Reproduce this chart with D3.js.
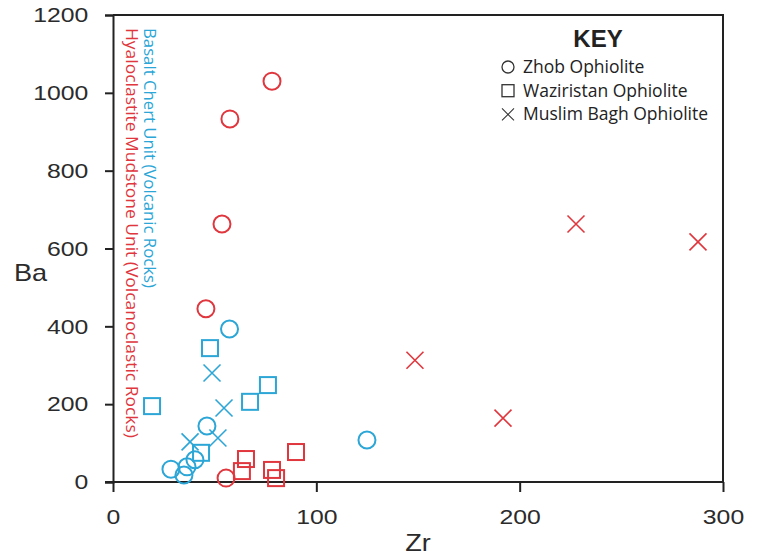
<!DOCTYPE html>
<html>
<head>
<meta charset="utf-8">
<script src="https://cdn.jsdelivr.net/npm/d3@7"></script>
<style>
  html, body { margin: 0; padding: 0; background: #fff; }
  svg { display: block; }
  .tick text { font-family: "Liberation Sans", Arial, sans-serif; }
</style>
</head>
<body>
<svg id="chart" width="765" height="556"></svg>
<script>
// Zr vs Ba for volcanic (basalt chert) and volcanoclastic (hyaloclastite mudstone) rocks
const xTicks = [0, 100, 200, 300];
const yTicks = [0, 200, 400, 600, 800, 1000, 1200];

const units = [
  { key: "basalt", label: "Basalt Chert Unit (Volcanic Rocks)", color: "#2ba6d6" },
  { key: "hyalo", label: "Hyaloclastite Mudstone Unit (Volcanoclastic Rocks)", color: "#e0363d" }
];

const ophiolites = [
  { key: "zhob", label: "Zhob Ophiolite", shape: "circle" },
  { key: "wazir", label: "Waziristan Ophiolite", shape: "square" },
  { key: "muslim", label: "Muslim Bagh Ophiolite", shape: "cross" }
];

// [Zr, Ba]
const basaltZhob = [[57.3, 393], [46.2, 144], [28.5, 33], [36.4, 39], [34.9, 18], [40.3, 57], [124.9, 108]];
const basaltWaziristan = [[19.2, 195], [47.7, 344], [67.4, 206], [76.2, 249], [43.3, 75]];
const basaltMuslimBagh = [[48.7, 280], [54.6, 190], [37.9, 103], [51.6, 113]];
const hyaloZhob = [[78.2, 1030], [57.5, 933], [53.6, 663], [45.7, 445], [55.6, 10]];
const hyaloWaziristan = [[65.4, 59], [63.4, 28], [78.2, 31], [80.2, 10], [90.0, 77]];
const hyaloMuslimBagh = [[148.5, 313], [191.8, 164], [227.7, 663], [287.7, 617]];

const groups = [
  { unit: "basalt", oph: "zhob", pts: basaltZhob },
  { unit: "basalt", oph: "wazir", pts: basaltWaziristan },
  { unit: "basalt", oph: "muslim", pts: basaltMuslimBagh },
  { unit: "hyalo", oph: "zhob", pts: hyaloZhob },
  { unit: "hyalo", oph: "wazir", pts: hyaloWaziristan },
  { unit: "hyalo", oph: "muslim", pts: hyaloMuslimBagh }
];

const svg = d3.select("#chart");
const plotLeft = 113, plotRight = 723, plotTop = 15, plotBottom = 482;

const x = d3.scaleLinear().domain([0, 300]).range([plotLeft, plotRight]);
const y = d3.scaleLinear().domain([0, 1200]).range([plotBottom, plotTop]);

const axisColor = "#222";
const textColor = "#2b2b2b";
const wide = 1.18; // horizontal stretch of the axis lettering

// frame (top and right edges)
svg.append("path")
  .attr("d", `M${plotLeft},${plotTop}H${plotRight}V${plotBottom}`)
  .attr("fill", "none").attr("stroke", axisColor).attr("stroke-width", 2);

const xAxis = svg.append("g")
  .attr("transform", `translate(0,${plotBottom})`)
  .call(d3.axisBottom(x).tickValues(xTicks).tickFormat(d3.format("d"))
    .tickSize(10).tickPadding(17));
const yAxis = svg.append("g")
  .attr("transform", `translate(${plotLeft},0)`)
  .call(d3.axisLeft(y).tickValues(yTicks).tickFormat(d3.format("d"))
    .tickSize(8).tickPadding(13));

[xAxis, yAxis].forEach(g => {
  g.select(".domain").attr("stroke", axisColor).attr("stroke-width", 2);
  g.selectAll(".tick line").attr("stroke", axisColor).attr("stroke-width", 2);
  g.selectAll(".tick text")
    .attr("fill", textColor).attr("font-size", 21)
    .attr("transform", `scale(${wide},1)`);
});
xAxis.select(".domain").attr("d", `M${plotLeft - 8},0H${plotRight}`);

// axis titles
svg.append("text").text("Zr")
  .attr("transform", `translate(${x(150)},551) scale(${wide},1)`)
  .attr("text-anchor", "middle")
  .attr("font-family", "Liberation Sans, Arial, sans-serif")
  .attr("font-size", 23).attr("fill", textColor);
svg.append("text").text("Ba")
  .attr("transform", `translate(14,281) scale(${wide},1)`)
  .attr("font-family", "Liberation Sans, Arial, sans-serif")
  .attr("font-size", 23).attr("fill", textColor);

// rotated unit labels
const unitLabel = {
  basalt: { x: 144, len: 260 },
  hyalo: { x: 126, len: 410 }
};
units.forEach(u => {
  svg.append("text").text(u.label)
    .attr("transform", `translate(${unitLabel[u.key].x},28) rotate(90)`)
    .attr("font-family", "Open Sans, sans-serif")
    .attr("font-size", 17)
    .attr("textLength", unitLabel[u.key].len)
    .attr("lengthAdjust", "spacingAndGlyphs")
    .attr("fill", u.color);
});

const colorOf = Object.fromEntries(units.map(u => [u.key, u.color]));
const shapeOf = Object.fromEntries(ophiolites.map(o => [o.key, o.shape]));

function drawMarker(g, shape, color, s, sw) {
  if (shape === "circle") {
    g.append("circle").attr("r", s * 0.5)
      .attr("fill", "none").attr("stroke", color).attr("stroke-width", sw);
  } else if (shape === "square") {
    g.append("rect").attr("x", -s / 2).attr("y", -s / 2)
      .attr("width", s).attr("height", s)
      .attr("fill", "none").attr("stroke", color).attr("stroke-width", sw);
  } else {
    const h = s / 2;
    g.append("path").attr("d", `M${-h},${-h}L${h},${h}M${-h},${h}L${h},${-h}`)
      .attr("fill", "none").attr("stroke", color).attr("stroke-width", sw * 0.8);
  }
}

// data points
const markerSize = { circle: 17, square: 16, cross: 17 };
groups.forEach(gr => {
  const shape = shapeOf[gr.oph];
  const color = colorOf[gr.unit];
  svg.append("g").selectAll("g")
    .data(gr.pts).join("g")
    .attr("transform", d => `translate(${x(d[0])},${y(d[1])})`)
    .each(function () {
      drawMarker(d3.select(this), shape, color, markerSize[shape], 2);
    });
});

// key
const key = svg.append("g");
key.append("text").text("KEY")
  .attr("x", 598).attr("y", 47)
  .attr("text-anchor", "middle")
  .attr("font-family", "Liberation Sans, Arial, sans-serif")
  .attr("font-weight", "bold").attr("font-size", 24).attr("fill", "#222");
ophiolites.forEach((o, i) => {
  const cy = 67 + i * 23.7;
  const g = key.append("g").attr("transform", `translate(508,${cy})`);
  drawMarker(g, o.shape, "#333", 12, 1.3);
  key.append("text").text(o.label)
    .attr("x", 523).attr("y", cy + 6)
    .attr("font-family", "Open Sans, sans-serif")
    .attr("font-size", 17.5).attr("fill", "#222");
});
</script>
</body>
</html>
